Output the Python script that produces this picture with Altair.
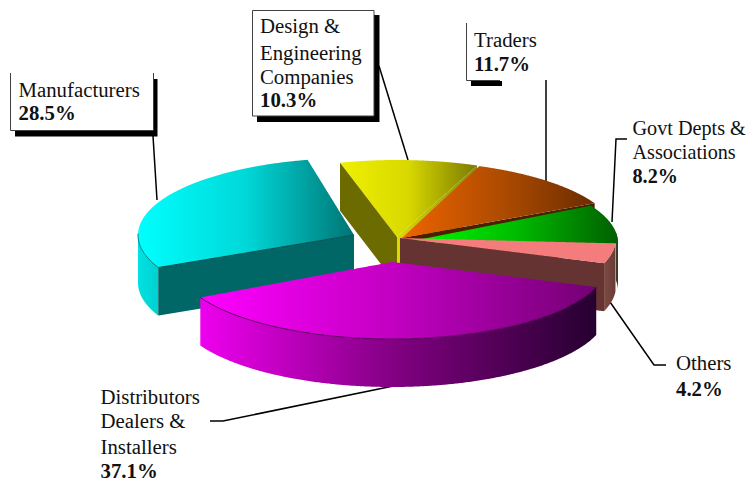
import numpy as np
import altair as alt

# ---- values
names = ["Manufacturers", "Design", "Traders", "Govt", "Others", "Distributors"]
shares = [28.5, 10.3, 11.7, 8.2, 4.2, 37.1]

label_lines = [
    ["Manufacturers"], ["Design &", "Engineering", "Companies"], ["Traders"],
    ["Govt Depts &", "Associations"], ["Others"], ["Distributors", "Dealers &", "Installers"],
]

# ---- layout and style (page pixels)
SHARE = dict(zip(names, shares))
RX, RY, DEPTH = 216.0, 77.0, 48.0
FONT = "Liberation Serif"
FS = {"Govt": 20.2}
APEX = {"Manufacturers": (354, 235), "Design": (397, 237), "Traders": (402, 238),
        "Govt": (402, 243), "Others": (400, 238), "Distributors": (392, 262)}
START = {"Manufacturers": 155.0, "Design": 254.7, "Traders": 291.0,
         "Govt": 331.0, "Others": 4.0, "Distributors": 19.0}
LABEL_POS = {"Manufacturers": (18.5, [97, 120]), "Design": (260, [33, 60, 84, 107]),
             "Traders": (474, [47, 71]), "Govt": (632.5, [135, 159, 183]),
             "Others": (676, [370, 396]), "Distributors": (100.5, [404, 428, 454, 478])}

X = alt.X("x:Q", scale=alt.Scale(domain=[8, 747], nice=False, zero=False), axis=None)
Y = alt.Y("y:Q", scale=alt.Scale(domain=[8, 482], nice=False, zero=False, reverse=True), axis=None)


def grad(*cols):
    n = len(cols) - 1
    return alt.Gradient(gradient="linear", x1=0, x2=1, y1=0, y2=0,
                        stops=[alt.GradientStop(offset=i / n, color=c) for i, c in enumerate(cols)])


def arc(name, t0=None, t1=None, dy=0.0, n=70):
    ax, ay = APEX[name]
    a = START[name] if t0 is None else t0
    b = START[name] + SHARE[name] * 3.6 if t1 is None else t1
    t = np.radians(np.linspace(a, b, n))
    return [(ax + RX * np.cos(v), ay + dy + RY * np.sin(v)) for v in t]


def band(poly, n=260):
    xs = [p[0] for p in poly]
    grid = np.unique(np.concatenate([np.linspace(min(xs), max(xs), n), xs]))
    rows = []
    m = len(poly)
    for gx in grid:
        ys = []
        for i in range(m):
            (x1, y1), (x2, y2) = poly[i], poly[(i + 1) % m]
            if x1 == x2:
                if gx == x1:
                    ys += [y1, y2]
            elif min(x1, x2) <= gx <= max(x1, x2):
                ys.append(y1 + (gx - x1) / (x2 - x1) * (y2 - y1))
        if ys:
            rows.append({"x": float(gx), "y": float(min(ys)), "y2": float(max(ys))})
    return rows


def fill(poly, paint):
    return alt.Chart(alt.Data(values=band(poly))).mark_area(fill=paint, interpolate="linear").encode(
        x=X, y=Y, y2="y2:Q")


def top(name):
    return [APEX[name]] + arc(name)


def arc_side(name, t0=None, t1=None):
    return arc(name, t0, t1) + arc(name, t0, t1, DEPTH)[::-1]


def cut_side(name, t):
    ax, ay = APEX[name]
    p = arc(name, t, t, n=1)[0]
    return [(ax, ay), p, (p[0], p[1] + DEPTH), (ax, ay + DEPTH)]


def line(points, color="black", width=1.5):
    vals = [{"x": float(a), "y": float(b), "i": i} for i, (a, b) in enumerate(points)]
    return alt.Chart(alt.Data(values=vals)).mark_line(color=color, strokeWidth=width, interpolate="linear").encode(
        x=X, y=Y, order="i:Q")


def box(x0, y0, x1, y1, color):
    return alt.Chart(alt.Data(values=[{"x": x0, "x2": x1, "y": y0, "y2": y1}])).mark_rect(
        color=color, opacity=1).encode(x=X, x2="x2:Q", y=Y, y2="y2:Q")


def end_t(name):
    return START[name] + SHARE[name] * 3.6


layers = []

# leaders
for pts in [
    [(153, 136), (157, 200)],
    [(379, 66), (408, 160)],
    [(546, 80), (546, 182)],
    [(627, 139), (616, 139), (612, 222)],
    [(610, 302), (654, 365), (666, 365)],
    [(403, 384), (223, 421), (210, 421)],
]:
    layers.append(line(pts))

# Design
layers.append(fill(cut_side("Design", end_t("Design")), grad("#dcdc00", "#8a8a10")))
layers.append(fill(top("Design"), grad("#f0f000", "#d8d800", "#7a7a00")))
layers.append(fill(cut_side("Design", START["Design"]), "#6b6b00"))

# Traders
layers.append(fill(cut_side("Traders", end_t("Traders")), "#4a2000"))
layers.append(fill(top("Traders"), grad("#ee6400", "#b04c00", "#6c2c00")))

# Govt
layers.append(fill(arc_side("Govt", 352, end_t("Govt")), "#3c3a2a"))
layers.append(fill(top("Govt"), grad("#00ff00", "#00c000", "#006000")))

# Others
layers.append(fill(arc_side("Others"), grad("#7c4a42", "#6a3c36")))
layers.append(fill(cut_side("Others", end_t("Others")), "#663333"))
layers.append(fill(top("Others"), "#f47c7c"))

# Manufacturers
layers.append(fill(arc_side("Manufacturers", START["Manufacturers"], 181), grad("#00e2e2", "#00d0d0")))
layers.append(fill(cut_side("Manufacturers", START["Manufacturers"]), "#006666"))
layers.append(fill(top("Manufacturers"), grad("#00ffff", "#00d8d8", "#007474")))
layers.append(line(arc("Manufacturers", START["Manufacturers"], 181, n=20), "#008080", 1))
layers.append(line([APEX["Manufacturers"], arc("Manufacturers", START["Manufacturers"], START["Manufacturers"], n=1)[0]], "#005050", 1))

# Distributors
layers.append(fill(arc_side("Distributors")[::-1], grad("#ee00ee", "#800080", "#260030")))
layers.append(fill(top("Distributors"), grad("#ff00ff", "#c000c0", "#740074")))
layers.append(line(arc("Distributors"), "#600060", 1))

# Label boxes: shadow, face, edges
for x0, y0, x1, y1 in [(15, 79, 157.5, 136.5), (257, 15, 379.5, 122)]:
    layers.append(box(x0, y0, x1, y1, "black"))
layers.append(box(471, 81, 502, 86, "black"))
for x0, y0, x1, y1 in [(10, 73, 153.5, 130), (252, 10, 374, 116)]:
    layers.append(box(x0, y0, x1, y1, "white"))
layers.append(line([(10.5, 73), (10.5, 130.5), (153.5, 130.5), (153.5, 73)], "#404040", 1))
layers.append(line([(252.5, 116), (252.5, 10.5), (374, 10.5), (374, 116), (252.5, 116)], "#404040", 1))
layers.append(line([(466.5, 23), (466.5, 80.5), (500, 80.5)], "#404040", 1))

# Text
plain, bold = [], []
for name, lines in zip(names, label_lines):
    px, ys = LABEL_POS[name]
    fs = FS.get(name, 20.8)
    for txt, yy in zip(lines, ys):
        plain.append({"x": px, "y": yy, "t": txt, "s": fs})
    bold.append({"x": px, "y": ys[-1], "t": f"{SHARE[name]}%", "s": fs})
for rows, weight in [(plain, "normal"), (bold, "bold")]:
    layers.append(alt.Chart(alt.Data(values=rows)).mark_text(
        align="left", baseline="alphabetic", font=FONT, fontWeight=weight, color="#111111"
    ).encode(x=X, y=Y, text="t:N", size=alt.Size("s:Q", scale=None)))

chart = alt.layer(*layers).properties(
    width=739, height=474, padding=0, autosize=alt.AutoSizeParams(type="none"),
).configure_view(stroke=None)

chart.save("out.html", embed_options={"renderer": "svg", "actions": False})
